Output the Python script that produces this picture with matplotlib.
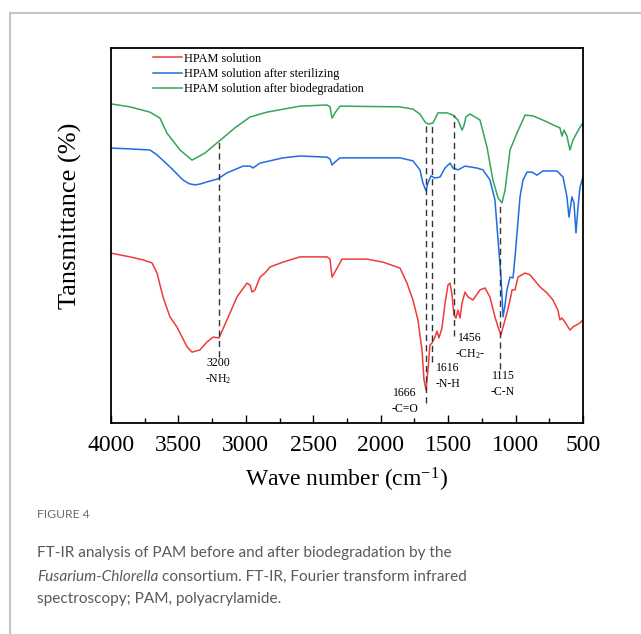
import matplotlib
matplotlib.use('Agg')
import matplotlib.pyplot as plt
from matplotlib.lines import Line2D

plt.rcParams['font.family'] = ['Liberation Serif', 'DejaVu Serif']
plt.rcParams['mathtext.fontset'] = 'custom'
plt.rcParams['mathtext.rm'] = 'Liberation Serif'
plt.rcParams['mathtext.it'] = 'Liberation Serif:italic'

# spectra (wave number, relative transmittance)
wn_green = [4000, 3859, 3711, 3637, 3585, 3488, 3399, 3303, 3207, 3081, 2969, 2843, 2599, 2398,
            2376, 2361, 2339, 2302, 1857, 1761, 1709, 1672, 1650, 1612, 1575, 1509, 1464, 1427,
            1397, 1383, 1368, 1338, 1264, 1212, 1168, 1130, 1101, 1078, 1041, 990, 930, 871,
            767, 723, 671, 656, 641, 619, 597, 574, 522, 500]
t_green = [85.1, 84.3, 82.9, 81.3, 77.3, 72.8, 70.1, 72.0, 74.9, 78.7, 81.6, 82.9, 84.5, 84.8,
           84.3, 81.3, 82.7, 84.5, 84.3, 83.7, 82.4, 80.3, 79.7, 80.0, 82.7, 82.7, 82.1, 80.8,
           78.1, 79.2, 81.6, 82.4, 80.8, 73.6, 64.8, 60.0, 58.7, 62.1, 72.8, 77.3, 82.1, 81.9,
           80.3, 79.5, 78.7, 76.5, 78.1, 76.5, 72.8, 75.5, 78.9, 80.0]

wn_blue = [4000, 3859, 3711, 3659, 3563, 3466, 3420, 3377, 3330, 3288, 3207, 3140, 3021, 2969,
           2947, 2895, 2725, 2599, 2398, 2376, 2361, 2339, 2302, 1857, 1761, 1709, 1687, 1664,
           1650, 1627, 1598, 1560, 1523, 1486, 1464, 1427, 1375, 1286, 1242, 1190, 1153, 1130,
           1108, 1093, 1078, 1064, 1041, 1019, 1004, 967, 945, 915, 878, 841, 797, 693, 648,
           619, 604, 582, 567, 552, 537, 522, 500]
t_blue = [73.3, 73.1, 72.8, 71.5, 68.3, 64.8, 63.8, 63.5, 63.8, 64.3, 65.1, 66.7, 68.5, 68.5,
          68.0, 69.3, 70.7, 71.2, 70.9, 70.4, 68.8, 69.6, 70.7, 70.7, 69.9, 67.5, 64.0, 61.9,
          64.0, 65.9, 65.3, 65.6, 68.0, 69.3, 68.0, 67.5, 68.5, 68.0, 67.5, 64.8, 59.5, 48.8,
          38.9, 28.3, 31.5, 35.5, 38.9, 38.7, 44.3, 60.3, 64.8, 66.9, 66.9, 66.1, 67.2, 67.2,
          65.6, 60.3, 54.9, 60.3, 58.7, 50.7, 57.6, 62.9, 65.6]

wn_red = [4000, 3859, 3763, 3696, 3659, 3614, 3563, 3511, 3436, 3399, 3340, 3288, 3244, 3199,
          3140, 3066, 2992, 2969, 2954, 2932, 2895, 2858, 2821, 2725, 2599, 2398, 2376, 2361,
          2339, 2287, 2102, 1983, 1857, 1805, 1761, 1724, 1694, 1679, 1664, 1650, 1635, 1620,
          1598, 1583, 1568, 1546, 1523, 1501, 1486, 1471, 1457, 1442, 1427, 1412, 1397, 1375,
          1353, 1316, 1264, 1227, 1190, 1153, 1130, 1108, 1093, 1064, 1041, 1026, 1004, 982,
          930, 893, 819, 767, 723, 686, 671, 656, 634, 597, 574, 522, 500]
t_red = [45.3, 44.3, 43.5, 42.7, 40.0, 33.6, 28.3, 25.6, 20.3, 18.9, 19.5, 21.6, 22.9, 22.7,
         27.5, 33.6, 37.3, 36.8, 34.9, 35.5, 38.9, 40.0, 41.6, 42.9, 44.3, 44.3, 43.7, 38.9,
         40.3, 43.7, 43.7, 42.9, 41.3, 37.3, 32.8, 27.5, 19.5, 11.5, 8.8, 14.1, 20.8, 21.3,
         22.9, 24.5, 22.7, 25.3, 32.0, 36.8, 37.3, 34.1, 28.8, 28.0, 30.1, 28.0, 32.0, 34.9,
         33.6, 32.8, 35.5, 36.0, 33.6, 28.3, 25.6, 23.5, 25.6, 29.3, 32.8, 35.5, 35.5, 38.9,
         40.0, 39.5, 36.3, 34.7, 32.8, 30.1, 27.5, 28.0, 26.9, 24.8, 25.6, 26.7, 27.5]

labels = ['HPAM solution', 'HPAM solution after sterilizing', 'HPAM solution after biodegradation']
colors = ['#ee3b3b', '#1f6ddf', '#33a65a']

# marked bands: wave number, line top, line bottom, text
peaks = [3200, 1666, 1616, 1456, 1115]
line_top = [74.9, 79.5, 80.0, 82.1, 58.7]
line_bot = [17.6, 5.3, 16.3, 23.2, 14.4]
peak_num = ['3200', '1666', '1616', '1456', '1115']
peak_grp = ['-NH$_2$', '-C=O', '-N-H', '-CH$_2$-', '-C-N']
lab_x = [3207, 1820, 1501, 1338, 1093]
lab_y = [16.0, 8.0, 14.7, 22.7, 12.5]

fig = plt.figure(figsize=(6.41, 6.34), dpi=100)
ax = fig.add_axes([111/641, 1-423/634, 472/641, 375/634])

ax.plot(wn_red, t_red, color=colors[0], lw=1.1, label=labels[0])
ax.plot(wn_blue, t_blue, color=colors[1], lw=1.1, label=labels[1])
ax.plot(wn_green, t_green, color=colors[2], lw=1.1, label=labels[2])

for p, a, b in zip(peaks, line_top, line_bot):
    ax.plot([p, p], [b, a], color='#333333', lw=1.0, ls=(0, (4.5, 3)))
for x, y, n, g in zip(lab_x, lab_y, peak_num, peak_grp):
    ax.text(x, y, n, fontsize=8.5, ha='center', va='center')
    ax.text(x, y - 4.2, g, fontsize=8.5, ha='center', va='center')

ax.set_xlim(4000, 500)
ax.set_ylim(0, 100)
ax.set_xticks([4000, 3500, 3000, 2500, 2000, 1500, 1000, 500])
ax.set_xticks([3750, 3250, 2750, 2250, 1750, 1250, 750], minor=True)
ax.set_yticks([])
ax.tick_params(axis='x', which='major', direction='in', length=6, width=1, labelsize=17, pad=8.5)
ax.tick_params(axis='x', which='minor', direction='in', length=3.5, width=1)
for s in ax.spines.values():
    s.set_linewidth(1.3)

ax.set_xlabel('Wave number (cm$^{\\mathrm{-1}}$)', fontsize=17, labelpad=7)
ax.set_ylabel('Tansmittance (%)', fontsize=19)
ax.yaxis.set_label_coords(-0.062, 0.552)

ax.legend(loc='upper left', bbox_to_anchor=(0.089, 0.988), frameon=False, fontsize=8.8,
          handlelength=2.4, handletextpad=0.15, labelspacing=0.27, borderpad=0, borderaxespad=0)

# card frame and caption
fig.add_artist(Line2D([10/641, 1], [1-13/634, 1-13/634], color='#c4c4c4', lw=1.5))
fig.add_artist(Line2D([10/641, 10/641], [0, 1-13/634], color='#c4c4c4', lw=1.5))

cap = ['Lato', 'DejaVu Sans']
fig.text(37/641, 1-514/634, 'FIGURE 4', family=cap, fontsize=8.7, color='#6a6a6a', va='center')
fig.text(37/641, 1-553/634, 'FT-IR analysis of PAM before and after biodegradation by the',
         family=cap, fontsize=11.1, color='#5a5a5a', va='center')
t1 = fig.text(37/641, 1-577/634, 'Fusarium-Chlorella', family=cap, style='italic',
              fontsize=11.1, color='#5a5a5a', va='center')
fig.canvas.draw()
bb = t1.get_window_extent()
fig.text(bb.x1/641 + 4/641, 1-577/634, 'consortium. FT-IR, Fourier transform infrared',
         family=cap, fontsize=11.1, color='#5a5a5a', va='center')
fig.text(37/641, 1-599/634, 'spectroscopy; PAM, polyacrylamide.',
         family=cap, fontsize=11.1, color='#5a5a5a', va='center')

fig.savefig('out.png', dpi=100)
